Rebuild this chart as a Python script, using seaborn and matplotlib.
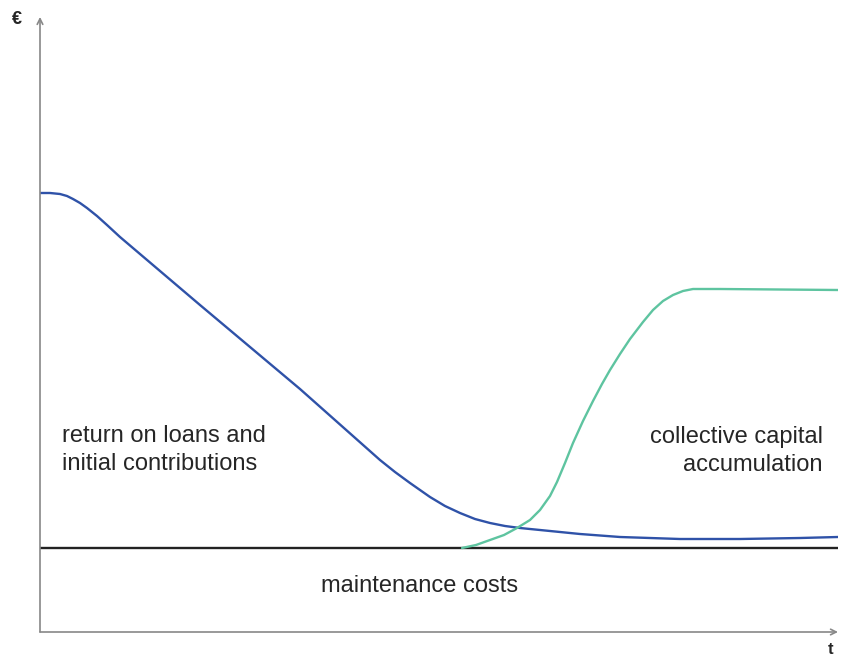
import matplotlib
matplotlib.use("Agg")
import matplotlib.pyplot as plt
import seaborn as sns
import pandas as pd

# values (x: along t, y: height above the maintenance line)
blue_x = [0, 10, 20, 27, 33, 40, 47, 57, 67, 80, 160, 260, 340, 355, 370, 380,
          390, 405, 420, 435, 450, 465, 480, 510, 540, 580, 640, 700, 760, 798]
blue_y = [355, 355, 354, 352, 349, 345, 340, 332, 323, 311, 243, 159, 88, 76, 65, 58,
          51, 42, 35, 29, 25, 22, 20, 17, 14, 11, 9, 9, 10, 11]

green_x = [422, 436, 450, 464, 477, 490, 500, 510, 517, 525, 533, 543, 553, 562,
           570, 580, 590, 603, 613, 623, 633, 643, 653, 680, 798]
green_y = [0, 3, 8, 13, 20, 28, 38, 52, 66, 85, 105, 127, 147, 164,
           178, 194, 209, 226, 238, 247, 253, 257, 259, 259, 258]

base_x = [0, 798]
base_y = [0, 0]

blue_df = pd.DataFrame({"t": blue_x, "eur": blue_y})
green_df = pd.DataFrame({"t": green_x, "eur": green_y})
base_df = pd.DataFrame({"t": base_x, "eur": base_y})

sns.set_style("white")
plt.rcParams['font.family'] = ['Liberation Sans', 'DejaVu Sans']

fig = plt.figure(figsize=(8.48, 6.56), dpi=100)
ax = fig.add_axes([40 / 848, 1 - 632 / 656, 798 / 848, 612 / 656])

line_kw = dict(lw=1.7, solid_joinstyle="round", solid_capstyle="round", ax=ax)
sns.lineplot(data=base_df, x="t", y="eur", color="#222222", **line_kw)
sns.lineplot(data=blue_df, x="t", y="eur", color="#2f52a8", **line_kw)
sns.lineplot(data=green_df, x="t", y="eur", color="#5ec4a0", **line_kw)

ax.set_xlim(0, 798)
ax.set_ylim(-84, 528)
ax.set_xticks([])
ax.set_yticks([])
ax.set_xlabel("")
ax.set_ylabel("")
for s in ax.spines.values():
    s.set_visible(False)

# axes with arrow heads
arrow = dict(arrowstyle="->", color="#888888", lw=1.2, shrinkA=0, shrinkB=0)
ax.annotate("", xy=(0, 1.005), xytext=(0, 0), xycoords="axes fraction",
            textcoords="axes fraction", arrowprops=arrow)
ax.annotate("", xy=(1.0, 0), xytext=(0, 0), xycoords="axes fraction",
            textcoords="axes fraction", arrowprops=arrow)

fig.text(17 / 848, 1 - 20 / 656, "€", fontsize=13, fontweight="bold",
         ha="center", va="center")
fig.text(831 / 848, 1 - 650 / 656, "t", fontsize=12, fontweight="bold",
         ha="center", va="center")

ax.text(22, 98, "return on loans and\ninitial contributions", fontsize=17,
        ha="left", va="center", linespacing=1.32)
ax.text(783, 97, "collective capital\naccumulation", fontsize=17,
        ha="right", va="center", linespacing=1.32)
ax.text(380, -38, "maintenance costs", fontsize=17, ha="center", va="center")

fig.savefig("out.png", dpi=100)
